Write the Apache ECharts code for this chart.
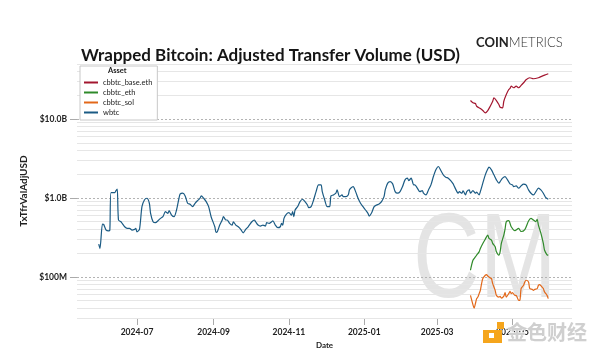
<!DOCTYPE html>
<html><head><meta charset="utf-8">
<script src="https://cdn.jsdelivr.net/npm/echarts@6/dist/echarts.min.js"></script>
<style>html,body{margin:0;padding:0;background:#fff}#c{width:600px;height:356px}</style>
</head><body><div id="c"></div>
<script>
// ---- data (values in millions of USD) ----
const wbtcDates = ['2024-05-31','2024-06-01','2024-06-03','2024-06-04','2024-06-06','2024-06-08','2024-06-09','2024-06-10','2024-06-13','2024-06-14','2024-06-15','2024-06-16','2024-06-18','2024-06-19','2024-06-21','2024-06-23','2024-06-25','2024-06-27','2024-06-29','2024-06-30',
'2024-07-01','2024-07-03','2024-07-05','2024-07-07','2024-07-09','2024-07-11','2024-07-12','2024-07-14','2024-07-16','2024-07-18','2024-07-20','2024-07-22','2024-07-24','2024-07-26','2024-07-27','2024-07-29','2024-07-31',
'2024-08-02','2024-08-04','2024-08-05','2024-08-07','2024-08-09','2024-08-11','2024-08-13','2024-08-15','2024-08-17','2024-08-19','2024-08-21','2024-08-22','2024-08-24','2024-08-26','2024-08-28','2024-08-30',
'2024-09-02','2024-09-03','2024-09-04','2024-09-06','2024-09-08','2024-09-09','2024-09-11','2024-09-12','2024-09-14','2024-09-16','2024-09-17','2024-09-19','2024-09-21','2024-09-23','2024-09-25','2024-09-27','2024-09-29',
'2024-10-02','2024-10-04','2024-10-05','2024-10-07','2024-10-09','2024-10-11','2024-10-13','2024-10-14','2024-10-16','2024-10-18','2024-10-19','2024-10-21','2024-10-23','2024-10-25','2024-10-26','2024-10-27','2024-10-28','2024-10-30',
'2024-11-01','2024-11-03','2024-11-04','2024-11-05','2024-11-06','2024-11-08','2024-11-10','2024-11-12','2024-11-14','2024-11-16','2024-11-17','2024-11-19','2024-11-21','2024-11-23','2024-11-25','2024-11-27','2024-11-28','2024-11-30',
'2024-12-02','2024-12-04','2024-12-05','2024-12-07','2024-12-09','2024-12-10','2024-12-12','2024-12-14','2024-12-15','2024-12-17','2024-12-19','2024-12-20','2024-12-21','2024-12-23','2024-12-25','2024-12-27','2024-12-29','2024-12-31',
'2025-01-02','2025-01-04','2025-01-05','2025-01-07','2025-01-09','2025-01-11','2025-01-13','2025-01-15','2025-01-17','2025-01-18','2025-01-20','2025-01-22','2025-01-24','2025-01-26','2025-01-28','2025-01-30',
'2025-02-01','2025-02-03','2025-02-05','2025-02-06','2025-02-08','2025-02-10','2025-02-11','2025-02-13','2025-02-15','2025-02-17','2025-02-18','2025-02-20','2025-02-22','2025-02-24','2025-02-26','2025-02-28',
'2025-03-02','2025-03-04','2025-03-06','2025-03-08','2025-03-10','2025-03-12','2025-03-14','2025-03-15','2025-03-17','2025-03-18','2025-03-19','2025-03-21','2025-03-22','2025-03-24','2025-03-25','2025-03-27','2025-03-28','2025-03-30',
'2025-04-01','2025-04-02','2025-04-04','2025-04-05','2025-04-07','2025-04-09','2025-04-11','2025-04-12','2025-04-14','2025-04-16','2025-04-18','2025-04-20','2025-04-21','2025-04-23','2025-04-25','2025-04-27','2025-04-29',
'2025-05-01','2025-05-02','2025-05-04','2025-05-06','2025-05-08','2025-05-10','2025-05-12','2025-05-14','2025-05-16','2025-05-18','2025-05-20','2025-05-22','2025-05-24','2025-05-26','2025-05-28','2025-05-30'];
const wbtcValues = [259,228,466,462,391,383,391,1168,1168,1239,1291,525,499,476,431,411,411,391,399,411,
372,399,775,943,991,856,638,499,485,514,551,578,669,638,689,607,578,
703,991,1124,1148,1060,856,831,775,856,924,991,1060,991,897,775,578,
431,366,372,453,525,578,525,525,476,453,499,453,431,399,361,399,431,
499,525,499,453,440,453,440,485,476,499,514,453,419,431,476,453,551,625,
650,607,669,578,703,775,897,963,897,814,752,775,943,1203,1464,1464,1203,943,
775,775,1060,1092,1148,1264,1039,1092,1039,1039,1092,1264,1329,1393,1203,991,856,775,
703,638,590,650,775,814,838,897,1039,1264,1539,1613,1508,1203,1148,1203,
1393,1696,1781,1661,1781,1464,1464,1329,1203,1239,1148,1092,1264,1464,1868,2274,
2505,2228,1963,1835,1781,1661,1508,1393,1203,1148,1203,1148,1228,1092,1203,1264,1148,1239,
1148,1182,1092,1203,1539,1963,2321,2460,2274,1963,1696,1539,1613,1781,1868,1696,1508,
1464,1393,1422,1329,1422,1494,1464,1264,1148,1092,1203,1329,1264,1148,1009,963];

const baseDates = ['2025-03-28','2025-03-30','2025-04-01','2025-04-02','2025-04-05','2025-04-07','2025-04-09','2025-04-11','2025-04-13','2025-04-15','2025-04-16','2025-04-18','2025-04-20','2025-04-21','2025-04-23','2025-04-24','2025-04-26','2025-04-28','2025-04-29','2025-04-30','2025-05-02','2025-05-04','2025-05-06','2025-05-08','2025-05-10','2025-05-12','2025-05-15','2025-05-18','2025-05-22','2025-05-25','2025-05-27','2025-05-30'];
const baseValues = [17200,16080,15750,14560,13610,12830,11990,12830,14560,16850,18620,17200,15300,14140,13890,16850,20520,23760,24470,26170,24970,26170,24970,26720,28920,31500,33480,32510,33480,35090,36130,37650];

const ethDates = ['2025-03-28','2025-03-30','2025-04-01','2025-04-02','2025-04-04','2025-04-05','2025-04-07','2025-04-09','2025-04-11','2025-04-12','2025-04-14','2025-04-15','2025-04-17','2025-04-18','2025-04-20','2025-04-21','2025-04-22','2025-04-24','2025-04-25','2025-04-26','2025-04-28','2025-04-30','2025-05-03','2025-05-06','2025-05-08','2025-05-11','2025-05-14','2025-05-16','2025-05-18','2025-05-20','2025-05-21','2025-05-22','2025-05-24','2025-05-26','2025-05-27','2025-05-29','2025-05-30'];
const ethValues = [121,162,179,188,207,229,265,300,338,307,292,265,240,207,188,207,265,338,403,499,517,431,384,410,375,397,509,551,525,502,535,453,358,265,217,190,188];

const solDates = ['2025-03-28','2025-03-30','2025-03-31','2025-04-01','2025-04-02','2025-04-03','2025-04-04','2025-04-05','2025-04-06','2025-04-07','2025-04-09','2025-04-10','2025-04-11','2025-04-13','2025-04-14','2025-04-15','2025-04-17','2025-04-18','2025-04-20','2025-04-21','2025-04-22','2025-04-24','2025-04-25','2025-04-26','2025-04-28','2025-04-29','2025-04-30','2025-05-01','2025-05-03','2025-05-04','2025-05-06','2025-05-07','2025-05-08','2025-05-10','2025-05-11','2025-05-12','2025-05-14','2025-05-15','2025-05-17','2025-05-18','2025-05-19','2025-05-21','2025-05-22','2025-05-23','2025-05-25','2025-05-26','2025-05-27','2025-05-29','2025-05-30'];
const solValues = [58.1,44.3,40.0,45.6,52.8,55.3,61.1,67.3,81.9,94.9,104.5,106.7,102.4,96.6,94.9,81.9,67.3,58.1,55.3,56.4,53.7,56.9,62.9,55.3,61.1,65.4,61.1,62.9,58.1,58.1,50.2,50.2,70.8,77.9,85.9,90.3,85.9,70.8,69.3,67.3,69.3,70.8,77.9,79.6,74.1,70.8,64.0,58.1,52.8];

const seriesNames = ['cbbtc_base.eth','cbbtc_eth','cbbtc_sol','wbtc'];
const seriesColors = ['#a3162f','#2f8a2a','#e2681a','#1b5b84'];

const yTickValues = [100, 1000, 10000];
const yTickLabels = ['$100M', '$1.0B', '$10.0B'];
const yMinorGrid = [30,40,50,60,70,80,90,200,300,400,500,600,700,800,900,2000,3000,4000,5000,6000,7000,8000,9000,20000,30000,40000,50000];
const yMin = 30, yMax = 50000;

const xTickDates = ['2024-07-01','2024-09-01','2024-11-01','2025-01-01','2025-03-01','2025-05-01'];
const xTickLabels = ['2024-07','2024-09','2024-11','2025-01','2025-03','2025-05'];
const xMinDate = '2024-05-13 10', xMaxDate = '2025-06-18 05';

// ---- helpers ----
function ts(s){ const p = s.split(' '); const d = p[0].split('-').map(Number); return new Date(d[0], d[1]-1, d[2], p[1] ? +p[1] : 0).getTime(); }
function pairs(ds, vs){ return ds.map((d,i)=>[ts(d), vs[i]]); }
const xTickTs = xTickDates.map(ts);

const chart = echarts.init(document.getElementById('c'), null, {renderer:'canvas'});
const FONT = 'Lato';
const dataSets = [pairs(baseDates, baseValues), pairs(ethDates, ethValues), pairs(solDates, solValues), pairs(wbtcDates, wbtcValues)];

const gridLines = yMinorGrid.map(v => ({yAxis: v, lineStyle:{color:'#e6e6e6', width:1, type:'solid'}}))
  .concat(yTickValues.map(v => ({yAxis: v, lineStyle:{color:'#b3b3b3', width:1, type:[2,2]}})));

const series = [{
  type:'line', name:'_grid', data:[], silent:true, z:1,
  markLine:{ silent:true, symbol:['none','none'], label:{show:false}, animation:false, data: gridLines }
}].concat(seriesNames.map((n,i)=>({
  type:'line', name:n, data:dataSets[i], showSymbol:false, smooth:0.25, z:5,
  lineStyle:{width:1.2, color:seriesColors[i]}, itemStyle:{color:seriesColors[i]}
})));

chart.setOption({
  animation:false,
  backgroundColor:'#fff',
  title:{ text:'Wrapped Bitcoin: Adjusted Transfer Volume (USD)', left:76, top:42,
    textStyle:{fontFamily:FONT, fontSize:17, fontWeight:'bold', color:'#151515'} },
  grid:{ left:77, right:28, top:64, bottom:38 },
  legend:{ data:seriesNames, orient:'vertical', left:80, top:66, itemWidth:14, itemHeight:2, icon:'rect', itemGap:1,
    backgroundColor:'#fff', borderColor:'#c8c8c8', borderWidth:1, padding:[12,5,3,4],
    textStyle:{fontFamily:FONT, fontSize:7.5, color:'#222', lineHeight:9}, z:10 },
  xAxis:{ type:'value', min:ts(xMinDate), max:ts(xMaxDate), name:'Date', nameLocation:'middle', nameGap:23,
    nameTextStyle:{fontFamily:FONT, fontSize:8, fontWeight:'bold', color:'#222'},
    axisLine:{show:false}, splitLine:{show:false},
    axisTick:{show:true, customValues:xTickTs, length:7, lineStyle:{color:'#aaa'}},
    axisLabel:{customValues:xTickTs, margin:10, fontFamily:FONT, fontSize:8.5, fontWeight:'bold', color:'#222',
      formatter:(v)=>{ const i = xTickTs.indexOf(v); return i>=0 ? xTickLabels[i] : ''; }} },
  yAxis:{ type:'log', logBase:10, min:yMin, max:yMax, name:'TxTfrValAdjUSD', nameLocation:'middle', nameGap:35,
    nameTextStyle:{fontFamily:FONT, fontSize:10, fontWeight:'bold', color:'#222'},
    axisLine:{show:false}, splitLine:{show:false},
    axisTick:{show:true, customValues:yTickValues, length:7, lineStyle:{color:'#aaa'}},
    axisLabel:{customValues:yTickValues, margin:10, fontFamily:FONT, fontSize:8.5, fontWeight:'bold', color:'#222',
      formatter:(v)=>{ const i = yTickValues.findIndex(t=>Math.abs(t-v)/t<1e-6); return i>=0 ? yTickLabels[i] : ''; }} },
  graphic:[
    { type:'text', left:476, top:36, z:10, style:{ text:'{a|COIN}{b|METRICS}', rich:{
        a:{fontFamily:FONT, fontSize:13, fontWeight:'bold', fill:'#222'},
        b:{fontFamily:FONT, fontSize:13, fontWeight:300, fill:'#333'} } } },
    { type:'text', left:108, top:67, z:20, style:{ text:'Asset', fontFamily:FONT, fontSize:7.5, fontWeight:'bold', fill:'#222' } },
    { type:'text', x:413, y:204, scaleX:0.77, z:3, silent:true, style:{ text:'CM', fontFamily:'Liberation Sans', fontSize:120, fill:'rgba(190,190,190,0.42)' } },
    { type:'rect', z:30, shape:{x:483, y:330, width:19, height:13}, style:{fill:'#f5a51c'} },
    { type:'rect', z:30, shape:{x:497, y:322, width:7, height:7}, style:{fill:'#f5a51c'} },
    { type:'rect', z:31, shape:{x:489, y:333, width:5, height:5}, style:{fill:'#fff'} },
    { type:'text', x:507, y:322, z:30, style:{ text:'金色财经', fontFamily:'Noto Sans CJK SC', fontSize:20, fontWeight:'bold', fill:'#cfcfcf', stroke:'#fff', lineWidth:1 } }
  ],
  series: series
});
</script></body></html>
